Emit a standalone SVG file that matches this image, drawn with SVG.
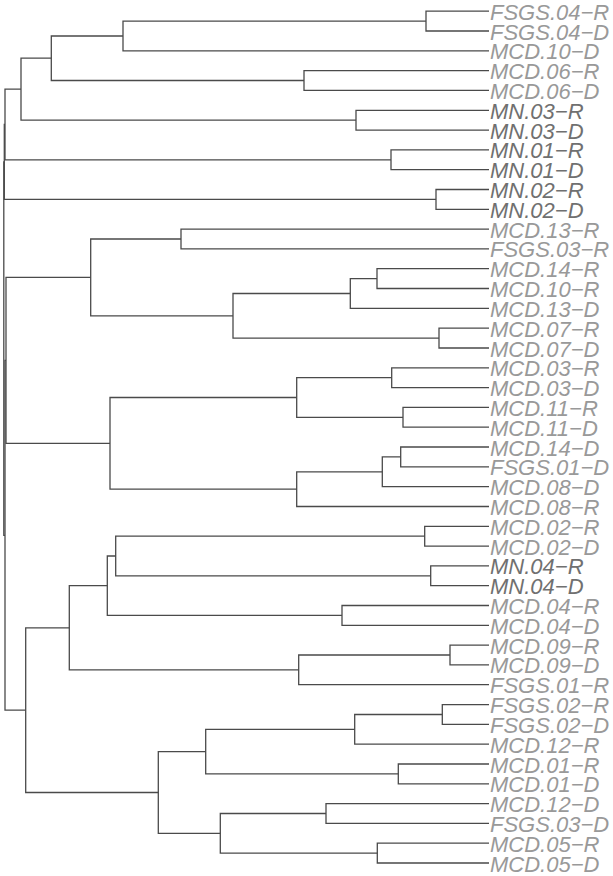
<svg xmlns="http://www.w3.org/2000/svg" width="613" height="876" viewBox="0 0 613 876">
<style>
.c path{fill:none;stroke:#4a4a4a;stroke-width:1.3}
text{font-family:"Liberation Sans",Arial,sans-serif;font-style:italic;font-size:22px;fill:#999999}
text.mn{fill:#707070}
</style>
<rect width="613" height="876" fill="#ffffff"/>
<g id="connectors" class="c">
<path d="M489 11.2H426V31H489"/>
<path d="M426 21.1H123V50.8H489"/>
<path d="M489 70.6H304V90.4H489"/>
<path d="M123 36H51.3V80.5H304"/>
<path d="M489 110.3H356V130.1H489"/>
<path d="M51.3 58.2H21V120.2H356"/>
<path d="M489 149.9H391V169.7H489"/>
<path d="M21 89.2H5V159.8H391"/>
<path d="M489 189.5H436V209.3H489"/>
<path d="M5 124.5H4.3V199.4H436"/>
<path d="M489 229.1H181V248.9H489"/>
<path d="M489 268.7H377V288.5H489"/>
<path d="M377 278.6H350.3V308.4H489"/>
<path d="M489 328.2H439V348H489"/>
<path d="M350.3 293.5H233V338.1H439"/>
<path d="M181 239H90.7V315.8H233"/>
<path d="M489 367.8H391.7V387.6H489"/>
<path d="M489 407.4H403V427.2H489"/>
<path d="M391.7 377.7H296.7V417.3H403"/>
<path d="M489 447H400.7V466.8H489"/>
<path d="M400.7 456.9H382.3V486.6H489"/>
<path d="M382.3 471.8H296.7V506.5H489"/>
<path d="M296.7 397.5H110V489.1H296.7"/>
<path d="M90.7 277.4H6V443.3H110"/>
<path d="M489 526.3H424.7V546.1H489"/>
<path d="M489 565.9H430.7V585.7H489"/>
<path d="M424.7 536.2H115.7V575.8H430.7"/>
<path d="M489 605.5H342V625.3H489"/>
<path d="M115.7 556H107.3V615.4H342"/>
<path d="M489 645.1H450V664.9H489"/>
<path d="M450 655H298.7V684.7H489"/>
<path d="M107.3 585.7H69.3V669.9H298.7"/>
<path d="M489 704.6H442.3V724.4H489"/>
<path d="M442.3 714.5H354.7V744.2H489"/>
<path d="M489 764H398.3V783.8H489"/>
<path d="M354.7 729.4H205.7V773.9H398.3"/>
<path d="M489 803.6H326V823.4H489"/>
<path d="M489 843.2H377.3V863H489"/>
<path d="M326 813.5H220.3V853.1H377.3"/>
<path d="M205.7 751.6H158.3V833.3H220.3"/>
<path d="M69.3 627.8H25.7V792.5H158.3"/>
<path d="M6 360.4H5V710.1H25.7"/>
<path d="M4.3 162H3.8V535.3H5"/>
</g>
<g id="leaf-FSGS.04-R"><text x="490" y="19.7">FSGS.04−R</text></g>
<g id="leaf-FSGS.04-D"><text x="490" y="39.5">FSGS.04−D</text></g>
<g id="leaf-MCD.10-D"><text x="490" y="59.3">MCD.10−D</text></g>
<g id="leaf-MCD.06-R"><text x="490" y="79.1">MCD.06−R</text></g>
<g id="leaf-MCD.06-D"><text x="490" y="98.9">MCD.06−D</text></g>
<g id="leaf-MN.03-R"><text class="mn" x="490" y="118.8">MN.03−R</text></g>
<g id="leaf-MN.03-D"><text class="mn" x="490" y="138.6">MN.03−D</text></g>
<g id="leaf-MN.01-R"><text class="mn" x="490" y="158.4">MN.01−R</text></g>
<g id="leaf-MN.01-D"><text class="mn" x="490" y="178.2">MN.01−D</text></g>
<g id="leaf-MN.02-R"><text class="mn" x="490" y="198">MN.02−R</text></g>
<g id="leaf-MN.02-D"><text class="mn" x="490" y="217.8">MN.02−D</text></g>
<g id="leaf-MCD.13-R"><text x="490" y="237.6">MCD.13−R</text></g>
<g id="leaf-FSGS.03-R"><text x="490" y="257.4">FSGS.03−R</text></g>
<g id="leaf-MCD.14-R"><text x="490" y="277.2">MCD.14−R</text></g>
<g id="leaf-MCD.10-R"><text x="490" y="297">MCD.10−R</text></g>
<g id="leaf-MCD.13-D"><text x="490" y="316.9">MCD.13−D</text></g>
<g id="leaf-MCD.07-R"><text x="490" y="336.7">MCD.07−R</text></g>
<g id="leaf-MCD.07-D"><text x="490" y="356.5">MCD.07−D</text></g>
<g id="leaf-MCD.03-R"><text x="490" y="376.3">MCD.03−R</text></g>
<g id="leaf-MCD.03-D"><text x="490" y="396.1">MCD.03−D</text></g>
<g id="leaf-MCD.11-R"><text x="490" y="415.9">MCD.11−R</text></g>
<g id="leaf-MCD.11-D"><text x="490" y="435.7">MCD.11−D</text></g>
<g id="leaf-MCD.14-D"><text x="490" y="455.5">MCD.14−D</text></g>
<g id="leaf-FSGS.01-D"><text x="490" y="475.3">FSGS.01−D</text></g>
<g id="leaf-MCD.08-D"><text x="490" y="495.1">MCD.08−D</text></g>
<g id="leaf-MCD.08-R"><text x="490" y="515">MCD.08−R</text></g>
<g id="leaf-MCD.02-R"><text x="490" y="534.8">MCD.02−R</text></g>
<g id="leaf-MCD.02-D"><text x="490" y="554.6">MCD.02−D</text></g>
<g id="leaf-MN.04-R"><text class="mn" x="490" y="574.4">MN.04−R</text></g>
<g id="leaf-MN.04-D"><text class="mn" x="490" y="594.2">MN.04−D</text></g>
<g id="leaf-MCD.04-R"><text x="490" y="614">MCD.04−R</text></g>
<g id="leaf-MCD.04-D"><text x="490" y="633.8">MCD.04−D</text></g>
<g id="leaf-MCD.09-R"><text x="490" y="653.6">MCD.09−R</text></g>
<g id="leaf-MCD.09-D"><text x="490" y="673.4">MCD.09−D</text></g>
<g id="leaf-FSGS.01-R"><text x="490" y="693.2">FSGS.01−R</text></g>
<g id="leaf-FSGS.02-R"><text x="490" y="713.1">FSGS.02−R</text></g>
<g id="leaf-FSGS.02-D"><text x="490" y="732.9">FSGS.02−D</text></g>
<g id="leaf-MCD.12-R"><text x="490" y="752.7">MCD.12−R</text></g>
<g id="leaf-MCD.01-R"><text x="490" y="772.5">MCD.01−R</text></g>
<g id="leaf-MCD.01-D"><text x="490" y="792.3">MCD.01−D</text></g>
<g id="leaf-MCD.12-D"><text x="490" y="812.1">MCD.12−D</text></g>
<g id="leaf-FSGS.03-D"><text x="490" y="831.9">FSGS.03−D</text></g>
<g id="leaf-MCD.05-R"><text x="490" y="851.7">MCD.05−R</text></g>
<g id="leaf-MCD.05-D"><text x="490" y="871.5">MCD.05−D</text></g>
</svg>
